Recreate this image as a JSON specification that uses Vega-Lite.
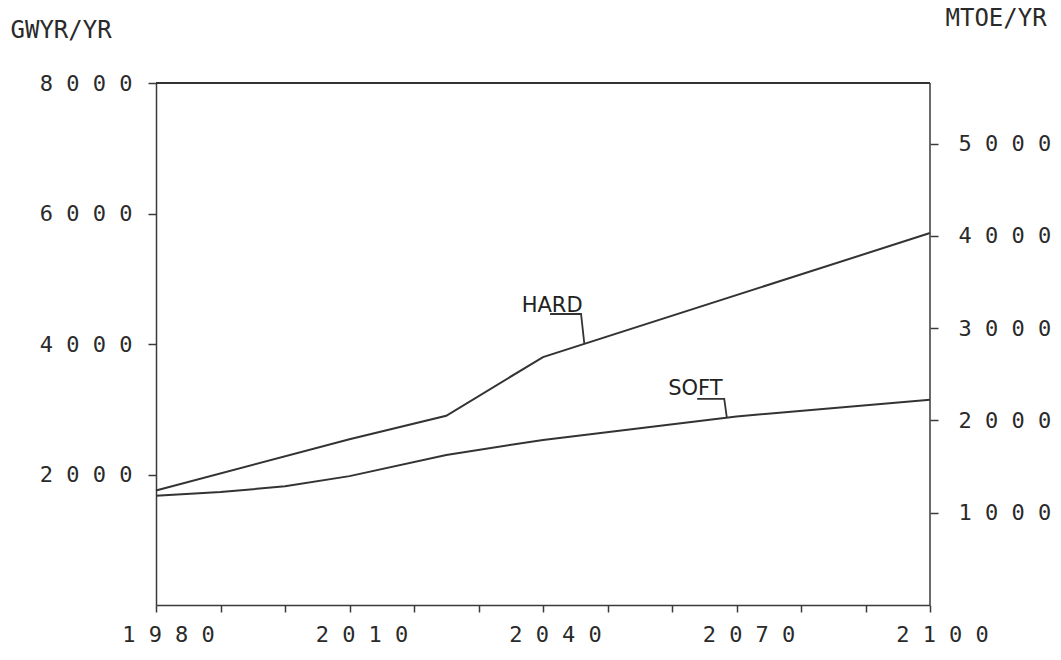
{
  "$schema": "https://vega.github.io/schema/vega-lite/v6.json",
  "width": 774,
  "height": 522,
  "autosize": {"type": "none"},
  "padding": {"left": 156, "top": 83, "right": 131, "bottom": 55},
  "background": "white",
  "config": {
    "view": {"stroke": null},
    "axis": {
      "grid": false,
      "domainColor": "#3a3a3a",
      "domainWidth": 1.5,
      "tickColor": "#3a3a3a",
      "tickWidth": 1.5,
      "labelColor": "#2a2a2a",
      "titleColor": "#2a2a2a",
      "labelFont": "DejaVu Sans Mono",
      "titleFont": "DejaVu Sans Mono",
      "titleFontWeight": "normal"
    }
  },
  "datasets": {
    "series": [
      {"scenario": "HARD", "year": 1980, "gwyr": 1755},
      {"scenario": "HARD", "year": 2010, "gwyr": 2540},
      {"scenario": "HARD", "year": 2025, "gwyr": 2900},
      {"scenario": "HARD", "year": 2040, "gwyr": 3800},
      {"scenario": "HARD", "year": 2100, "gwyr": 5700},
      {"scenario": "SOFT", "year": 1980, "gwyr": 1675},
      {"scenario": "SOFT", "year": 1990, "gwyr": 1730},
      {"scenario": "SOFT", "year": 2000, "gwyr": 1820},
      {"scenario": "SOFT", "year": 2010, "gwyr": 1975},
      {"scenario": "SOFT", "year": 2025, "gwyr": 2300},
      {"scenario": "SOFT", "year": 2040, "gwyr": 2530},
      {"scenario": "SOFT", "year": 2070, "gwyr": 2890},
      {"scenario": "SOFT", "year": 2100, "gwyr": 3145}
    ],
    "leaders": [
      {"id": "HARD", "year": 2041.1, "gwyr": 4460},
      {"id": "HARD", "year": 2045.9, "gwyr": 4460},
      {"id": "HARD", "year": 2046.4, "gwyr": 4010},
      {"id": "SOFT", "year": 2063.9, "gwyr": 3160},
      {"id": "SOFT", "year": 2068.1, "gwyr": 3160},
      {"id": "SOFT", "year": 2068.5, "gwyr": 2870}
    ],
    "labels": [
      {"label": "HARD", "year": 2036.7, "gwyr": 4485},
      {"label": "SOFT", "year": 2059.4, "gwyr": 3213}
    ],
    "frameTop": [{"year": 1980, "year2": 2100, "gwyr": 8000}],
    "frameRight": [{"year": 2100, "mtoe": 0, "mtoe2": 5657}]
  },
  "layer": [
    {
      "encoding": {
        "x": {
          "field": "year",
          "type": "quantitative",
          "scale": {"domain": [1980, 2100], "nice": false, "zero": false},
          "axis": {
            "title": null,
            "values": [1980, 1990, 2000, 2010, 2020, 2030, 2040, 2050, 2060, 2070, 2080, 2090, 2100],
            "format": "d",
            "labelExpr": "(datum.value - 1980) % 30 === 0 ? join(split(datum.label, ''), ' ') : ''",
            "tickSize": 7,
            "labelPadding": 12,
            "labelOffset": 12,
            "labelFontSize": 22,
            "labelBaseline": "top",
            "labelFlush": false,
            "labelOverlap": false
          }
        },
        "y": {
          "field": "gwyr",
          "type": "quantitative",
          "scale": {"domain": [0, 8000], "nice": false},
          "axis": {
            "orient": "left",
            "values": [2000, 4000, 6000, 8000],
            "labelExpr": "join(split(datum.label, ''), ' ')",
            "format": "d",
            "tickSize": 8,
            "labelPadding": 16,
            "labelFontSize": 22,
            "title": "GWYR/YR",
            "titleAngle": 0,
            "titleAlign": "left",
            "titleBaseline": "bottom",
            "titleX": -146,
            "titleY": -41,
            "titleFontSize": 24
          }
        }
      },
      "layer": [
        {
          "data": {"name": "series"},
          "mark": {"type": "line", "color": "#333333", "strokeWidth": 2},
          "encoding": {"detail": {"field": "scenario"}}
        },
        {
          "data": {"name": "leaders"},
          "mark": {"type": "line", "color": "#333333", "strokeWidth": 1.8},
          "encoding": {"detail": {"field": "id"}}
        },
        {
          "data": {"name": "labels"},
          "mark": {"type": "text", "align": "left", "baseline": "alphabetic", "font": "DejaVu Sans", "fontSize": 21, "color": "#222222"},
          "encoding": {"text": {"field": "label"}}
        },
        {
          "data": {"name": "frameTop"},
          "mark": {"type": "rule", "color": "#333333", "strokeWidth": 2.2},
          "encoding": {"x2": {"field": "year2"}}
        }
      ]
    },
    {
      "data": {"name": "frameRight"},
      "mark": {"type": "rule", "color": "#3a3a3a", "strokeWidth": 1.5},
      "encoding": {
        "x": {"field": "year", "type": "quantitative"},
        "y": {
          "field": "mtoe",
          "type": "quantitative",
          "scale": {"domain": [0, 5657], "nice": false},
          "axis": {
            "orient": "right",
            "domain": false,
            "values": [1000, 2000, 3000, 4000, 5000],
            "format": "d",
            "labelExpr": "join(split(datum.label, ''), ' ')",
            "tickSize": 8,
            "labelPadding": 20,
            "labelFontSize": 22,
            "title": "MTOE/YR",
            "titleAngle": 0,
            "titleAlign": "left",
            "titleBaseline": "bottom",
            "titleX": 15,
            "titleY": -53,
            "titleFontSize": 24
          }
        },
        "y2": {"field": "mtoe2"}
      }
    }
  ],
  "resolve": {"scale": {"y": "independent"}}
}
